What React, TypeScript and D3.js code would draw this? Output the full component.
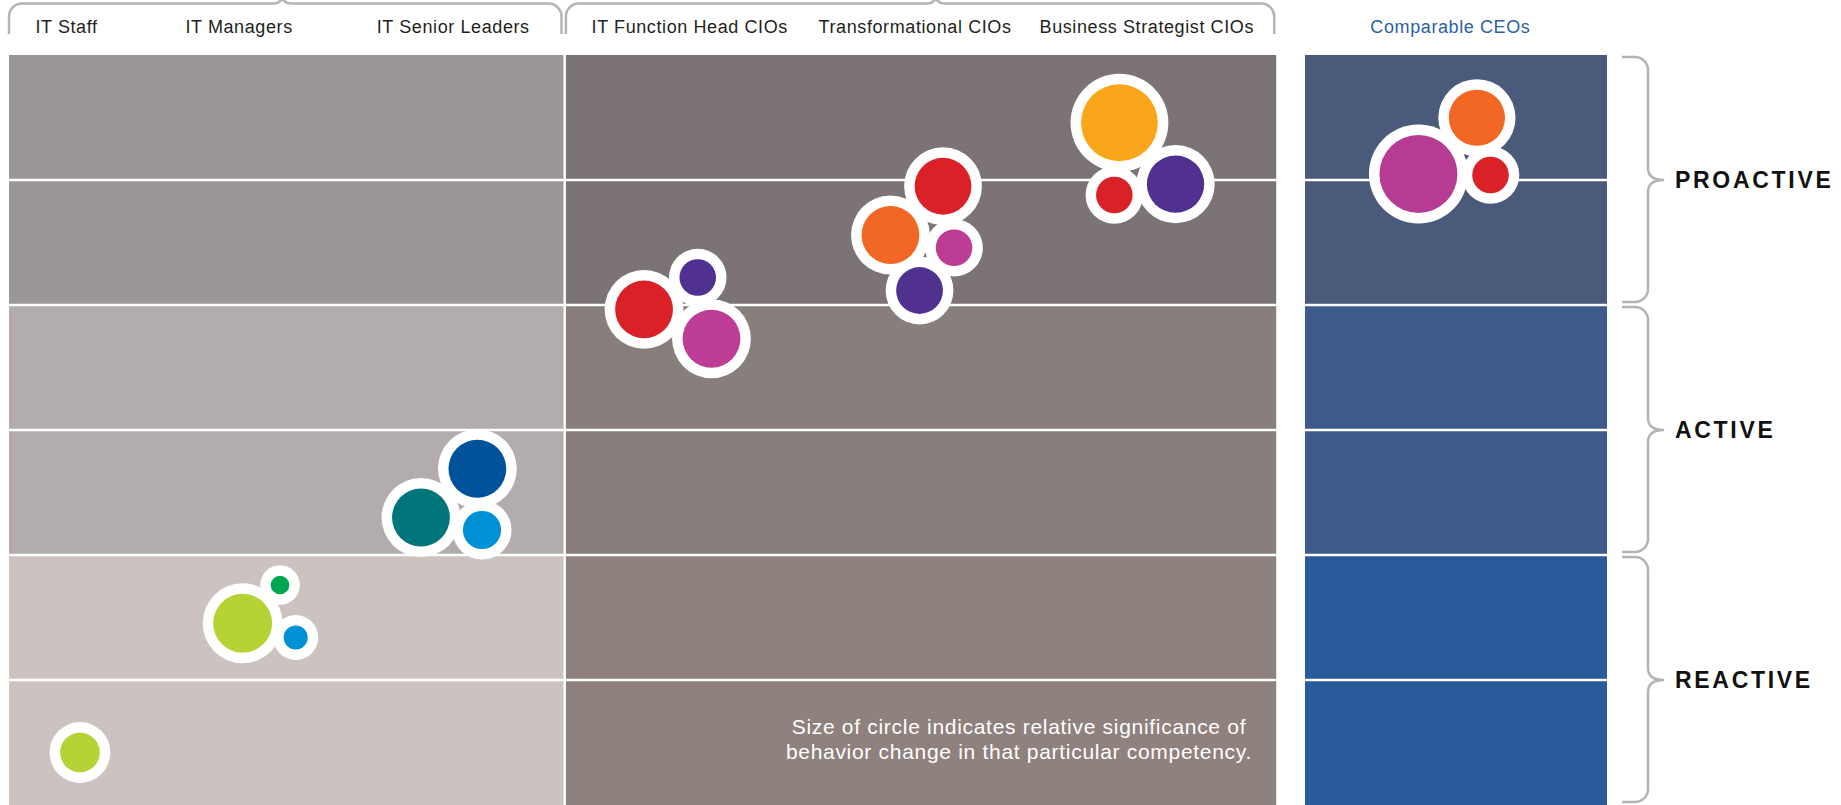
import * as d3 from "d3";
import React from "react";

const width = 1841;
const height = 805;

// career continuum labels along the top (position in continuum units 0-100)
const stageLabels = [
  "IT Staff",
  "IT Managers",
  "IT Senior Leaders",
  "IT Function Head CIOs",
  "Transformational CIOs",
  "Business Strategist CIOs",
  "Comparable CEOs"
];
const stagePos = [3.6, 14.4, 27.8, 42.6, 56.7, 71.2, 90.2];

// three panels: IT roles, CIO types, CEOs
const panelStart = [0, 34.85, 81.1];
const panelEnd = [34.7, 79.3, 100];
const braceTip = [17.1, 58.0, null];
// fills per panel, from the bottom pair of rows to the top pair
const panelFills = [
  ["#ccc3c1", "#b2adac", "#9b9797"],
  ["#8f817d", "#887e7c", "#7b7374"],
  ["#2a5a9a", "#3e5a8a", "#4a5a7b"]
];

// behaviour levels, each covers two rows (bottom to top)
const levels = ["REACTIVE", "ACTIVE", "PROACTIVE"];
const rowCount = 6;

// circles: x = continuum position, level = row position (0 bottom - 6 top), size = relative significance
const staffCircles = [{ color: "#b5d334", x: 4.44, level: 0.42, size: 26 }];
const managerCircles = [
  { color: "#b5d334", x: 14.62, level: 1.454, size: 57 },
  { color: "#00a650", x: 16.96, level: 1.76, size: 5.7 },
  { color: "#0090d4", x: 17.94, level: 1.34, size: 9.5 }
];
const seniorCircles = [
  { color: "#00529b", x: 29.31, level: 2.69, size: 55 },
  { color: "#00757a", x: 25.78, level: 2.3, size: 55 },
  { color: "#0090d4", x: 29.6, level: 2.2, size: 24 }
];
const functionHeadCircles = [
  { color: "#db2128", x: 39.74, level: 3.965, size: 55 },
  { color: "#51318f", x: 43.1, level: 4.22, size: 22 },
  { color: "#bc3c96", x: 43.96, level: 3.73, size: 55 }
];
const transformationalCircles = [
  { color: "#db2128", x: 58.45, level: 4.95, size: 53 },
  { color: "#f26723", x: 55.16, level: 4.56, size: 55 },
  { color: "#bc3c96", x: 59.14, level: 4.458, size: 22 },
  { color: "#51318f", x: 56.98, level: 4.116, size: 36 }
];
const strategistCircles = [
  { color: "#faa61a", x: 69.49, level: 5.458, size: 97 },
  { color: "#db2128", x: 69.17, level: 4.88, size: 22 },
  { color: "#51318f", x: 73.0, level: 4.967, size: 54 }
];
const ceoCircles = [
  { color: "#f26723", x: 91.86, level: 5.498, size: 52 },
  { color: "#b53b93", x: 88.2, level: 5.048, size: 100 },
  { color: "#db2128", x: 92.71, level: 5.04, size: 22 }
];

const allCircles = [
  ...staffCircles,
  ...managerCircles,
  ...seniorCircles,
  ...functionHeadCircles,
  ...transformationalCircles,
  ...strategistCircles,
  ...ceoCircles
];

const noteLines = [
  "Size of circle indicates relative significance of",
  "behavior change in that particular competency."
];
const notePos = 63.2;

const font = "'Liberation Sans', Arial, sans-serif";
const braceColor = "#b4b4b4";

export default function App() {
  const marginLeft = 9;
  const plotRight = 1607;
  const marginTop = 55;

  const x = d3.scaleLinear().domain([0, 100]).range([marginLeft, plotRight]);
  const y = d3.scaleLinear().domain([0, rowCount]).range([height, marginTop]);
  const r = d3.scaleSqrt().domain([0, 100]).range([0, 39]);
  const ring = 10.5;
  const gap = 2.5;

  // top braces over the first two panels, tip pointing up
  const topBrace = (x0, x1, tip) => {
    const p = d3.path();
    const yT = 3.5;
    const yB = 34;
    const rc = 13;
    const rt = 9;
    p.moveTo(x0, yB);
    p.lineTo(x0, yT + rc);
    p.arcTo(x0, yT, x0 + rc, yT, rc);
    p.lineTo(tip - rt, yT);
    p.quadraticCurveTo(tip, yT, tip, yT - rt);
    p.moveTo(tip, yT - rt);
    p.quadraticCurveTo(tip, yT, tip + rt, yT);
    p.lineTo(x1 - rc, yT);
    p.arcTo(x1, yT, x1, yT + rc, rc);
    p.lineTo(x1, yB);
    return p.toString();
  };

  // right braces, tip pointing right
  const sideBrace = (y0, y1, tipY) => {
    const p = d3.path();
    const xs = 1622;
    const xl = 1648;
    const xt = 1664;
    const rc = 13;
    const rt = 12;
    p.moveTo(xs, y0);
    p.lineTo(xl - rc, y0);
    p.arcTo(xl, y0, xl, y0 + rc, rc);
    p.lineTo(xl, tipY - rt);
    p.quadraticCurveTo(xl, tipY, xt, tipY);
    p.quadraticCurveTo(xl, tipY, xl, tipY + rt);
    p.lineTo(xl, y1 - rc);
    p.arcTo(xl, y1, xl - rc, y1, rc);
    p.lineTo(xs, y1);
    return p.toString();
  };

  const rows = d3.range(rowCount);

  return (
    <svg
      width={width}
      height={height}
      style={{ position: "absolute", left: 0, top: 0, display: "block", background: "#fff" }}
      fontFamily={font}
    >
      {/* panel backgrounds */}
      {panelStart.map((s, pi) => (
        <g key={pi}>
          {rows.map((i) => {
            const top = y(i + 1) + (i === rowCount - 1 ? 0 : gap / 2);
            const bottom = y(i) - (i === 0 ? 0 : gap / 2);
            return (
              <rect
                key={i}
                x={x(s)}
                y={top}
                width={x(panelEnd[pi]) - x(s)}
                height={bottom - top}
                fill={panelFills[pi][Math.floor(i / 2)]}
              />
            );
          })}
        </g>
      ))}

      {/* top braces */}
      <g fill="none" stroke={braceColor} strokeWidth="2.5">
        {braceTip.map((t, pi) =>
          t == null ? null : (
            <path key={pi} d={topBrace(x(panelStart[pi]), x(panelEnd[pi]) - 2, x(t))} />
          )
        )}
        {levels.map((lv, li) => (
          <path key={lv} d={sideBrace(y(li * 2 + 2) + 2, y(li * 2) - 3, y(li * 2 + 1))} />
        ))}
      </g>

      {/* stage labels */}
      {stageLabels.map((s, i) => (
        <text
          key={s}
          x={x(stagePos[i])}
          y={33}
          textAnchor="middle"
          fontSize="18"
          letterSpacing="0.6"
          fill={i === stageLabels.length - 1 ? "#2d5fa5" : "#231f20"}
        >
          {s}
        </text>
      ))}

      {/* level labels */}
      {levels.map((lv, li) => (
        <text
          key={lv}
          x={1675}
          y={y(li * 2 + 1) + 8}
          fontSize="23"
          fontWeight="bold"
          letterSpacing="2.7"
          fill="#111"
        >
          {lv}
        </text>
      ))}

      {/* white rings */}
      <g fill="#fff">
        {allCircles.map((c, i) => (
          <circle key={i} cx={x(c.x)} cy={y(c.level)} r={r(c.size) + ring} />
        ))}
      </g>
      <g>
        {allCircles.map((c, i) => (
          <circle key={i} cx={x(c.x)} cy={y(c.level)} r={r(c.size)} fill={c.color} />
        ))}
      </g>

      {/* note */}
      {noteLines.map((t, i) => (
        <text
          key={i}
          x={x(notePos)}
          y={734 + i * 25}
          textAnchor="middle"
          fontSize="21"
          letterSpacing="0.7"
          fill="#fff"
        >
          {t}
        </text>
      ))}
    </svg>
  );
}
